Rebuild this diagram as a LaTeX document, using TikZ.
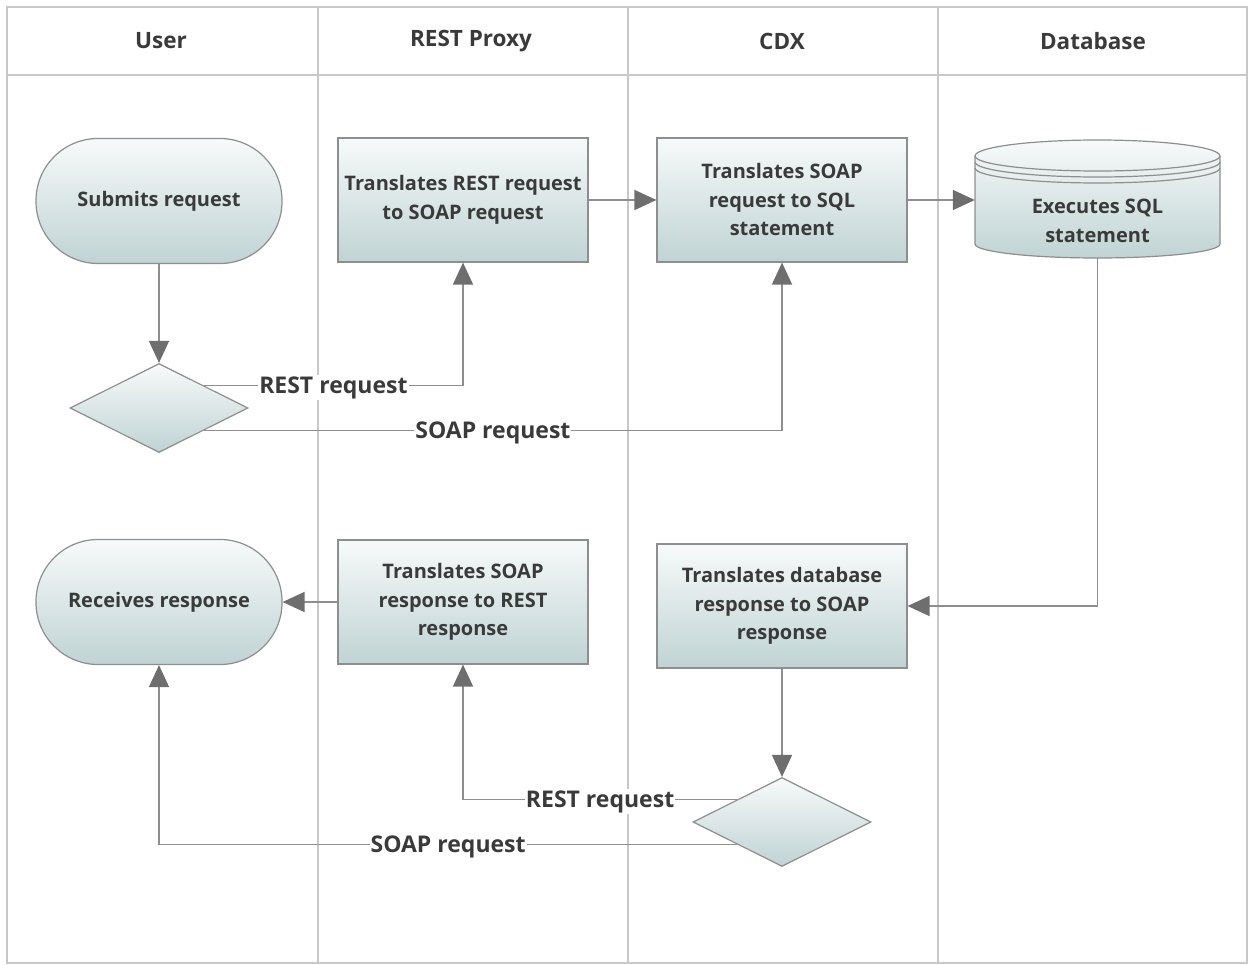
\documentclass[tikz,border=0pt]{standalone}
\usepackage{fontspec}
\setmainfont{Open Sans}
\usetikzlibrary{shapes.geometric,arrows.meta}
\definecolor{txt}{HTML}{3A3A3A}
\definecolor{edgec}{HTML}{8E8E8E}
\definecolor{lanec}{HTML}{C8C8C8}
\definecolor{shtop}{HTML}{F7FAFA}
\definecolor{shbot}{HTML}{C0D3D4}
\definecolor{tipc}{HTML}{6E6E6E}
\begin{document}
\begin{tikzpicture}[x=1pt,y=-1pt,
  font=\fontsize{20}{28.5}\selectfont\bfseries, text=txt,
  proc/.style={draw=edgec, line width=1.2pt, top color=shtop, bottom color=shbot,
    minimum width=250pt, minimum height=124pt, align=center, inner sep=1pt},
  term/.style={proc, minimum width=246pt, minimum height=125pt, rounded corners=62pt},
  dec/.style={diamond, draw=edgec, line width=1.2pt, top color=shtop, bottom color=shbot,
    minimum width=178pt, minimum height=89pt, inner sep=0pt},
  conn/.style={draw=edgec, line width=1.7pt, -{Triangle[length=22pt,width=20pt,color=tipc]}},
  lbl/.style={fill=white, inner sep=1pt, yshift=-2pt, text=txt, font=\fontsize{23}{26}\selectfont\bfseries},
  lanehd/.style={font=\fontsize{22.5}{26}\selectfont\bfseries, text=txt},
  lane/.style={draw=lanec, line width=2pt}]
\useasboundingbox (0,0) rectangle (1249,965);
% swimlane frame
\draw[lane] (7,7) rectangle (1247,963);
\draw[lane] (7,75) -- (1247,75);
\draw[lane] (318,7) -- (318,963);
\draw[lane] (628,7) -- (628,963);
\draw[lane] (938,7) -- (938,963);
\node[lanehd] (hUser) at (161,41) {User};
\node[lanehd] (hProxy) at (471,41) {REST Proxy};
\node[lanehd] (hCdx) at (782,41) {CDX};
\node[lanehd] (hDb) at (1093,41) {Database};
% nodes
\node[term] (submit) at (159,201) {Submits request};
\node[dec] (d1) at (159,408) {};
\node[proc] (rest) at (463,200) {Translates REST request\\to SOAP request};
\node[proc] (sql) at (782,200) {Translates SOAP\\request to SQL\\statement};
% database cylinder
\path[draw=edgec, line width=1.2pt, top color=shtop, bottom color=shbot]
  (975,156) -- (975,244) arc[start angle=180, end angle=360, x radius=122.5pt, y radius=14pt]
  -- (1220,156) arc[start angle=0, end angle=180, x radius=122.5pt, y radius=16pt] -- cycle;
\draw[edgec, line width=1.2pt] (975,156) arc[start angle=180, end angle=360, x radius=122.5pt, y radius=15pt];
\draw[edgec, line width=1.2pt] (975,162) arc[start angle=180, end angle=360, x radius=122.5pt, y radius=15pt];
\draw[edgec, line width=1.2pt] (975,168) arc[start angle=180, end angle=360, x radius=122.5pt, y radius=15pt];
\node[align=center, minimum width=245pt, minimum height=74pt, inner sep=0pt] (db) at (1097.5,221) {Executes SQL\\statement};
\node[term] (recv) at (159,602) {Receives response};
\node[proc] (soaprest) at (463,602) {Translates SOAP\\response to REST\\response};
\node[proc] (dbresp) at (782,606) {Translates database\\response to SOAP\\response};
\node[dec] (d2) at (782,822) {};
% connectors
\draw[conn] (submit.south) -- (d1.north);
\draw[conn] (d1.north east) -| node[lbl, pos=0.25] (l1) {REST request} (rest.south);
\draw[conn] (d1.south east) -| node[lbl, pos=0.25] (l2) {SOAP request} (sql.south);
\draw[conn] (rest.east) -- (sql.west);
\draw[conn] (sql.east) -- (sql.east -| db.west);
\draw[conn] (db.south) |- (dbresp.east);
\draw[conn] (dbresp.south) -- (d2.north);
\draw[conn] (d2.north west) -| node[lbl, pos=0.25] (l3) {REST request} (soaprest.south);
\draw[conn] (d2.south west) -| node[lbl, pos=0.25] (l4) {SOAP request} (recv.south);
\draw[conn] (soaprest.west) -- (recv.east);
\end{tikzpicture}
\end{document}
